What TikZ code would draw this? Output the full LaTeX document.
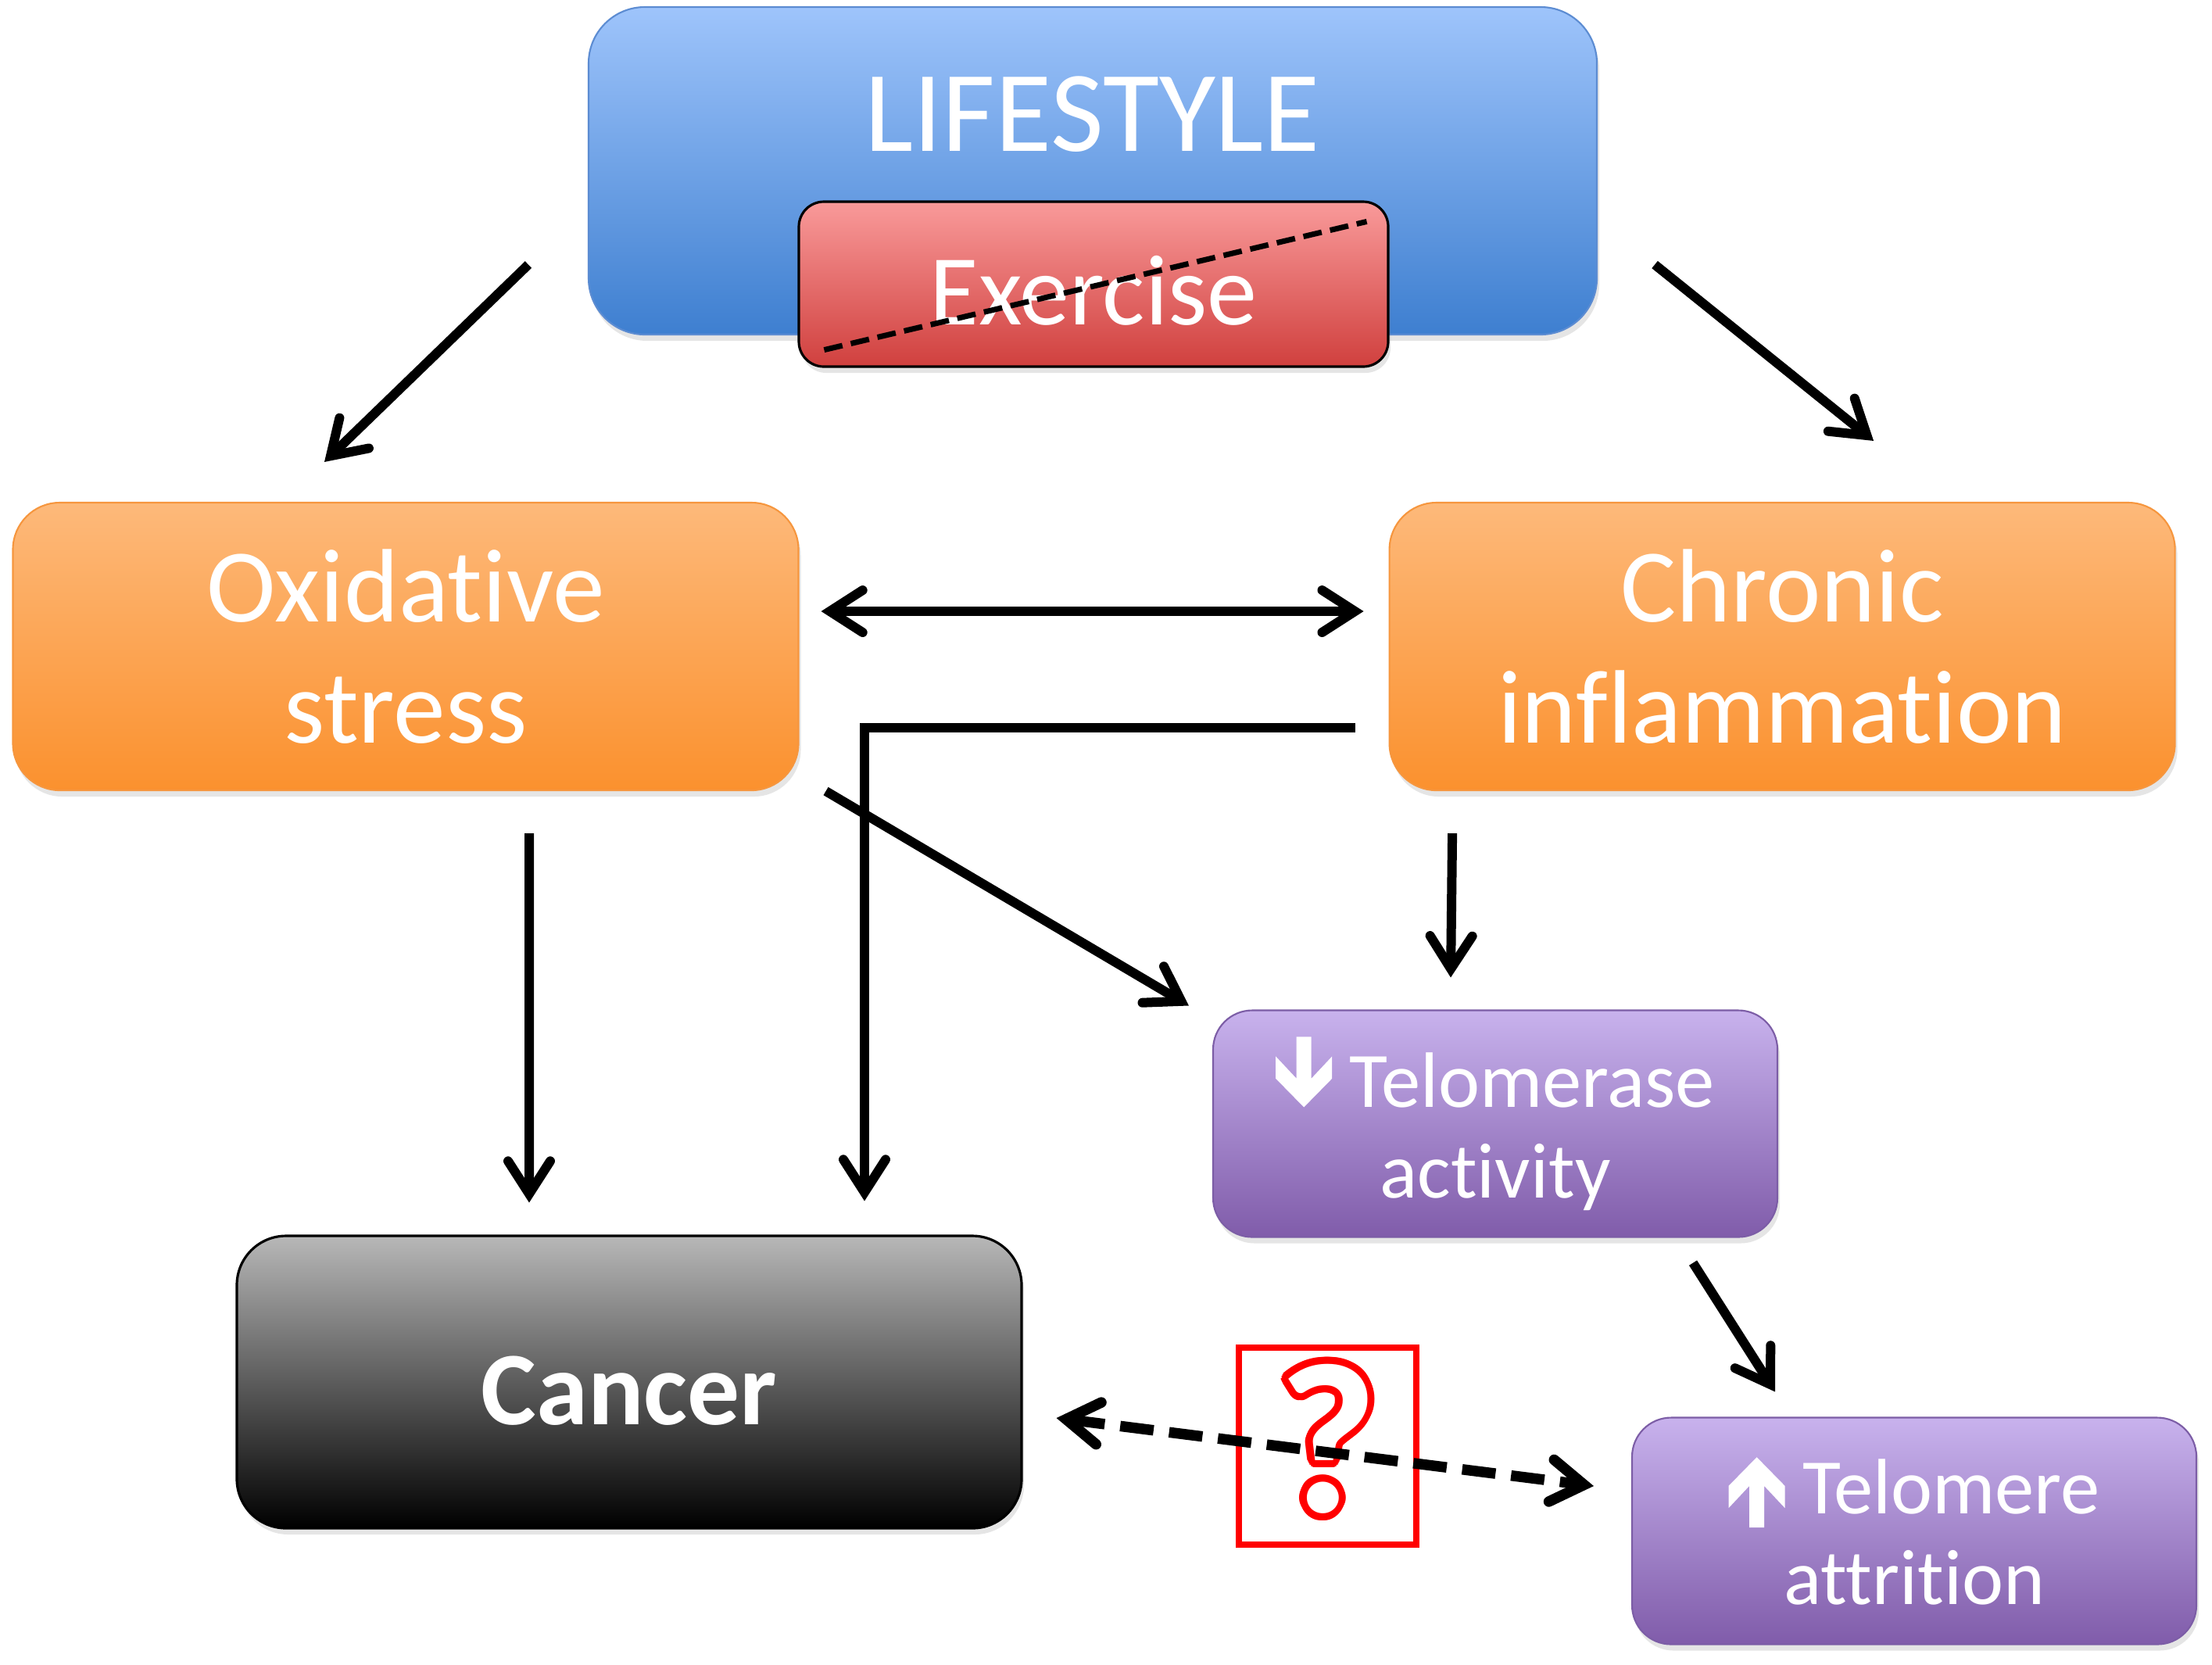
\documentclass[tikz,border=0pt]{standalone}
\usepackage{fontspec}
\setmainfont{Carlito}[Ligatures=NoCommon]
\usepackage{contour}
\usetikzlibrary{positioning, arrows.meta, calc, shadows}

\definecolor{lifetop}{RGB}{158,196,251}
\definecolor{lifebot}{RGB}{62,127,208}
\definecolor{lifeline}{RGB}{92,140,210}
\definecolor{extop}{RGB}{249,154,154}
\definecolor{exbot}{RGB}{208,64,62}
\definecolor{oxtop}{RGB}{253,185,122}
\definecolor{oxbot}{RGB}{251,145,46}
\definecolor{oxline}{RGB}{246,150,62}
\definecolor{tltop}{RGB}{200,178,237}
\definecolor{tlbot}{RGB}{128,92,170}
\definecolor{tlline}{RGB}{124,93,166}

\contourlength{2.6pt}
\contournumber{24}

% small white block arrows in the purple boxes
\newcommand{\downarr}{\tikz[baseline=0pt, sharp corners]\fill[white] (0.265,0.9)--(0.455,0.9)--(0.455,0.367)--(0.72,0.65)--(0.72,0.367)--(0.36,0)--(0,0.367)--(0,0.65)--(0.265,0.367)--cycle;}
\newcommand{\uparr}{\tikz[baseline=0pt, sharp corners]\fill[white] (0.265,-0.18)--(0.455,-0.18)--(0.455,0.353)--(0.72,0.07)--(0.72,0.353)--(0.36,0.72)--(0,0.353)--(0,0.07)--(0.265,0.353)--cycle;}

\begin{document}
\begin{tikzpicture}[
  shade box/.style={rectangle, inner sep=0pt, align=center, text=white,
              drop shadow={shadow xshift=0.03cm, shadow yshift=-0.08cm, opacity=0.2}},
  lifebox/.style={shade box, draw=lifeline, line width=0.6pt, rounded corners=0.72cm,
              top color=lifetop, bottom color=lifebot,
              minimum width=12.9cm, minimum height=4.19cm},
  exbox/.style={shade box, draw=black, line width=0.9pt, rounded corners=0.32cm,
              top color=extop, bottom color=exbot,
              minimum width=7.54cm, minimum height=2.11cm,
              text height=1.03cm, text depth=0pt,
              font=\fontsize{36.5}{40}\selectfont},
  orangebox/.style={shade box, draw=oxline, line width=0.6pt, rounded corners=0.6cm,
              top color=oxtop, bottom color=oxbot,
              minimum width=10.05cm, minimum height=3.68cm,
              font=\fontsize{38}{44.3}\selectfont},
  purplebox/.style={shade box, draw=tlline, line width=0.6pt, rounded corners=0.5cm,
              top color=tltop, bottom color=tlbot,
              minimum width=7.22cm, minimum height=2.9cm,
              font=\fontsize{28.6}{33}\selectfont},
  cancerbox/.style={shade box, draw=black, line width=0.9pt, rounded corners=0.63cm,
              top color=black!28, bottom color=black,
              minimum width=10.04cm, minimum height=3.74cm,
              text height=1.08cm, text depth=0pt,
              font=\fontsize{38}{44}\selectfont\bfseries},
  qbox/.style={draw=red, line width=0.075cm, minimum width=2.27cm,
              minimum height=2.52cm, inner sep=0pt},
  arr/.style={line width=0.12cm, ->},
  dasharr/.style={line width=0.135cm, <->, dash pattern=on 0.43cm off 0.2cm},
  strike/.style={line width=0.07cm, dash pattern=on 0.24cm off 0.11cm},
  >={Straight Barb[length=0.42cm, width=0.54cm, line cap=round, line join=miter]}
]
  \fill[white] (0,0) rectangle (28.30,-21.29);
  \useasboundingbox (0,0) rectangle (28.30,-21.29);

  % Top: lifestyle with exercise
  \node[lifebox] (life) at (13.98,-2.185) {};
  \node[anchor=base, text=white, font=\fontsize{42}{46}\selectfont] (lifetxt)
    at ([yshift=-1.86cm]life.north) {LIFESTYLE};
  \node[exbox] (ex) at (13.99,-3.635) {Exercise};
  \draw[strike] ([shift={(0.34,0.23)}]ex.south west) -- ([shift={(-0.29,-0.27)}]ex.north east);

  % Middle row
  \node[orangebox] (oxi) at (5.19,-8.27) {Oxidative\\stress};
  \node[orangebox, right=7.54cm of oxi] (chr) {Chronic\\inflammation};

  % Telomeres
  \node[purplebox] (tase) at (19.13,-14.375) {\downarr\ Telomerase\\activity};
  \node[purplebox] (tmere) at (24.49,-19.585) {\uparr\ Telomere\\attrition};

  % Cancer
  \node[cancerbox] (can) at (8.05,-17.68) {Cancer};

  % Question
  \node[qbox] (qb) at (16.985,-18.50) {};
  \node[text=white, inner sep=0pt, font=\fontsize{78}{78}\selectfont\bfseries] (qm)
    at ([yshift=0.05cm]qb.center) {\contour{red}{?}};

  % Arrows
  \draw[arr] ([shift={(-0.76,-1.2)}]life.west) -- ([shift={(-1.04,0.51)}]oxi.north);
  \draw[arr] ([shift={(0.73,-1.2)}]life.east) -- ([shift={(1.17,0.78)}]chr.north);
  \draw[arr, <->] ([shift={(0.28,0.45)}]oxi.east) -- ([shift={(-0.32,0.45)}]chr.west);
  \draw[arr, line join=miter] ([shift={(-0.43,-1.04)}]chr.west) -| ([shift={(3.01,0.43)}]can.north);
  \draw[arr] ([shift={(1.58,-0.54)}]oxi.south) -- ([shift={(-1.28,0.41)}]can.north);
  \draw[arr] ([shift={(0.34,0)}]oxi.south east) -- ([shift={(-0.30,0.05)}]tase.north west);
  \draw[arr] ([shift={(-4.22,-0.54)}]chr.south) -- ([shift={(-0.57,0.41)}]tase.north);
  \draw[arr] ([shift={(2.53,-0.32)}]tase.south) -- ([shift={(-1.78,0.32)}]tmere.north);
  \draw[dasharr] ([shift={(0.43,-0.46)}]can.east) -- ([shift={(-0.48,0.575)}]tmere.west);
\end{tikzpicture}
\end{document}
